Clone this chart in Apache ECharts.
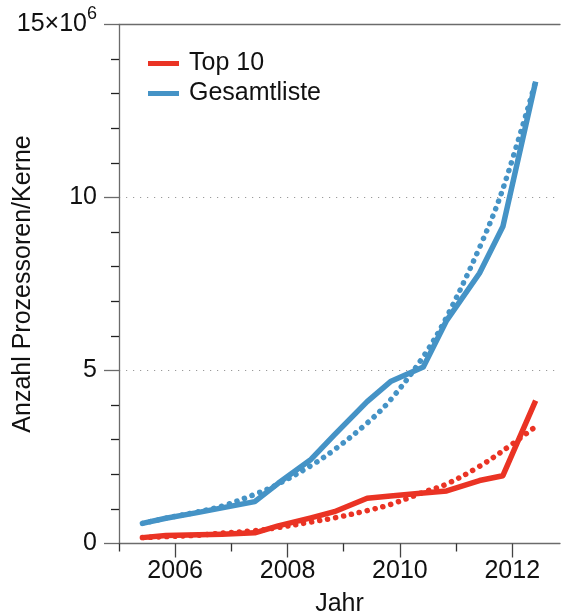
<!DOCTYPE html>
<html>
<head>
<meta charset="utf-8">
<title>Prozessoren/Kerne</title>
<script src="https://cdn.jsdelivr.net/npm/echarts@6/dist/echarts.min.js"></script>
<style>
  html, body { margin: 0; padding: 0; background: #fff; }
  #chart { width: 562px; height: 614px; }
</style>
</head>
<body>
<div id="chart"></div>
<script>
// TOP500 lists (June / November), 2005 to 2012
const listDates = ['2005-06', '2005-11', '2006-06', '2006-11', '2007-06', '2007-11', '2008-06', '2008-11',
                   '2009-06', '2009-11', '2010-06', '2010-11', '2011-06', '2011-11', '2012-06'];

// processors/cores in millions
const top10Cores =        [0.17, 0.23, 0.25, 0.27, 0.31, 0.51, 0.74, 0.92, 1.31, 1.37, 1.46, 1.52, 1.82, 1.96, 4.13];
const top10Trend =        [0.17, 0.20, 0.24, 0.30, 0.37, 0.46, 0.62, 0.74, 0.95, 1.13, 1.48, 1.72, 2.23, 2.68, 3.38];
const totalCores =        [0.58, 0.73, 0.90, 1.03, 1.21, 1.74, 2.43, 3.14, 4.10, 4.68, 5.10, 6.45, 7.81, 9.16, 13.35];
const totalTrend =        [0.58, 0.73, 0.92, 1.08, 1.42, 1.72, 2.25, 2.71, 3.48, 4.15, 5.40, 6.55, 8.55, 10.25, 13.35];

const yearTicksMajor = [2006, 2008, 2010, 2012];
const yearTicksMinor = [2005, 2007, 2009, 2011];
const yTickLabels = { 0: '0', 5: '5', 10: '10' };

const seriesNames = ['Top 10', 'Gesamtliste'];
const RED = '#ea3324';
const BLUE = '#4593c6';
const FONT = 'Liberation Sans, Arial, Helvetica, sans-serif';

// list date -> fractional year
function toYear(d) {
  const [y, m] = d.split('-').map(Number);
  return y + (m - 1) / 12;
}
const xs = listDates.map(toYear);
const pairs = arr => arr.map((v, i) => [xs[i], v]);

const axisGray = '#6b6b6b';

const chart = echarts.init(document.getElementById('chart'), null, { renderer: 'canvas' });

chart.setOption({
  animation: false,
  backgroundColor: '#fff',
  textStyle: { fontFamily: FONT },
  grid: { left: 119, right: 2, top: 24.5, bottom: 70.5, containLabel: false, outerBoundsMode: 'none' },
  legend: {
    data: seriesNames,
    orient: 'vertical',
    left: 148,
    top: 51,
    padding: 0,
    itemWidth: 31,
    itemHeight: 5,
    itemGap: 5,
    icon: 'rect',
    textStyle: { fontSize: 25, lineHeight: 25, color: '#111', fontFamily: FONT, padding: [0, 0, 0, 5] }
  },
  xAxis: [
    {
      type: 'value',
      min: 2005,
      max: 2012.85,
      position: 'bottom',
      name: 'Jahr',
      nameLocation: 'middle',
      nameGap: 48,
      nameMoveOverlap: false,
      nameTextStyle: { fontSize: 25, color: '#111', fontFamily: FONT },
      axisLine: { show: true, onZero: false, lineStyle: { color: axisGray, width: 1.3 } },
      axisTick: { show: true, customValues: yearTicksMajor, length: 14, inside: false,
                  lineStyle: { color: '#444', width: 1.3 } },
      axisLabel: { customValues: yearTicksMajor, fontSize: 25, color: '#111', margin: 15,
                   fontFamily: FONT, formatter: v => String(v) },
      splitLine: { show: false }
    },
    {
      type: 'value',
      min: 2005,
      max: 2012.85,
      position: 'bottom',
      axisLine: { show: false, onZero: false },
      axisTick: { show: true, customValues: yearTicksMinor, length: 8, inside: false,
                  lineStyle: { color: '#333', width: 1.3 } },
      axisLabel: { show: false },
      splitLine: { show: false }
    },
    {
      type: 'value',
      min: 2005,
      max: 2012.85,
      position: 'top',
      axisLine: { show: true, onZero: false, lineStyle: { color: axisGray, width: 1.3 } },
      axisTick: { show: false },
      axisLabel: { show: false },
      splitLine: { show: false }
    }
  ],
  yAxis: {
    type: 'value',
    min: 0,
    max: 15,
    interval: 5,
    name: 'Anzahl Prozessoren/Kerne',
    nameLocation: 'middle',
    nameGap: 83,
    nameRotate: 90,
    nameMoveOverlap: false,
    nameTextStyle: { fontSize: 25, color: '#111', fontFamily: FONT },
    axisLine: { show: true, onZero: false, lineStyle: { color: axisGray, width: 1.3 } },
    axisTick: { show: true, length: 15, inside: false, lineStyle: { color: axisGray, width: 1.3 } },
    minorTick: { show: true, splitNumber: 5, length: 8, lineStyle: { color: '#222', width: 1.3 } },
    axisLabel: {
      fontSize: 25,
      color: '#111',
      margin: 22,
      fontFamily: FONT,
      formatter: v => (v === 15 ? '{b|15×10}{s|6}' : (yTickLabels[v] || '')),
      rich: {
        b: { fontSize: 25, color: '#111', fontFamily: FONT, lineHeight: 25 },
        s: { fontSize: 18, color: '#111', fontFamily: FONT, lineHeight: 38, verticalAlign: 'top' }
      }
    },
    splitLine: {
      show: true,
      showMinLine: false,
      showMaxLine: false,
      lineStyle: { color: '#9a9a9a', width: 1.2, type: [1.2, 5.8] }
    },
    minorSplitLine: { show: false }
  },
  series: [
    {
      name: 'Top 10 Trend',
      type: 'line',
      data: pairs(top10Trend),
      smooth: 0.35,
      showSymbol: false,
      silent: true,
      z: 2,
      lineStyle: { color: RED, width: 5.5, type: [0.1, 8], cap: 'round' }
    },
    {
      name: 'Gesamtliste Trend',
      type: 'line',
      data: pairs(totalTrend),
      smooth: 0.35,
      showSymbol: false,
      silent: true,
      z: 2,
      lineStyle: { color: BLUE, width: 5.5, type: [0.1, 8], cap: 'round' }
    },
    {
      name: seriesNames[0],
      type: 'line',
      data: pairs(top10Cores),
      showSymbol: false,
      z: 3,
      color: RED,
      lineStyle: { color: RED, width: 5.5, join: 'round' }
    },
    {
      name: seriesNames[1],
      type: 'line',
      data: pairs(totalCores),
      showSymbol: false,
      z: 3,
      color: BLUE,
      lineStyle: { color: BLUE, width: 5.5, join: 'round' }
    }
  ]
});
</script>
</body>
</html>
